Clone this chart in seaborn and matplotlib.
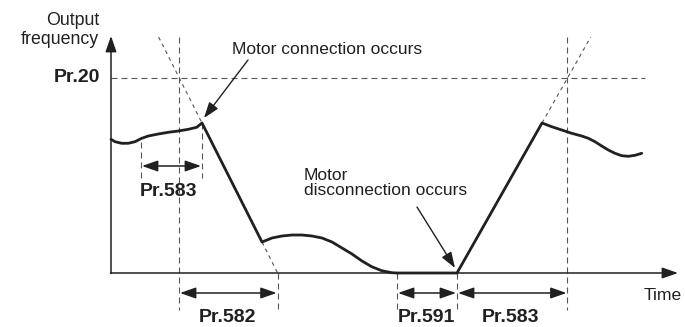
import numpy as np
import pandas as pd
import matplotlib
matplotlib.use("Agg")
import matplotlib.pyplot as plt
import seaborn as sns

# ---- data (time units, frequency units) ----
curve_t = [0, 4, 10.7, 17.3, 24, 30.7, 37.3, 47.3, 57.3, 67.3, 77.3, 85.7, 91,
           151, 161, 171, 181, 191, 201, 211, 221, 231, 241, 251, 260.7, 270.7, 280.7, 286,
           346, 431,
           440.7, 450.7, 460.7, 470.7, 477.3, 484, 490.7, 497.3, 504, 510.7, 517.3, 524, 530.7]
curve_f = [133.7, 131.3, 129.7, 129.7, 131.3, 134.7, 137, 139, 140.7, 142, 143.7, 145.7, 150,
           31, 35, 37, 38, 38, 37, 35, 31, 25, 19, 12, 6.3, 2.3, 0.3, 0,
           0, 150,
           146.3, 143, 139.7, 137, 134.7, 131.3, 127, 123, 119.7, 117.3, 116.7, 117.7, 119.7]

pr20_level = 195
t_pr20_decel = 68
t_connect = 91
t_decel_end = 151
t_decel_zero = 166.6
t_zero = 286
t_restart = 346
t_accel_end = 431
t_pr20_accel = 456.5
t_detect_start = 30
f_top = 236
t_axis_end = 567
t_pr20_line_end = 534

span_labels = ["Pr.583", "Pr.582", "Pr.591", "Pr.583"]
span_start = [t_detect_start, t_pr20_decel, t_zero, t_restart]
span_end = [t_connect, t_decel_zero, t_restart, t_pr20_accel]
span_arrow_f = [107, -20, -20, -20]
span_label_t = [58, 116, 315, 400]
span_label_f = [82, -44, -45, -45]

sns.set_theme(style="white")
plt.rcParams["font.family"] = ["Liberation Sans", "DejaVu Sans"]

fig = plt.figure(figsize=(6.85, 3.27), dpi=100)
ax = fig.add_axes([0, 0, 1, 1])

ink = "#231f20"
gray = "#555555"
dash_long = (0, (5.4, 3.6))
dash_short = (0, (3.4, 3.4))
lw_d = 0.8

# dashed guides
ax.plot([0, t_pr20_line_end], [pr20_level, pr20_level], color=gray, lw=lw_d, ls=dash_long)
for t in [t_pr20_decel, t_pr20_accel]:
    ax.plot([t, t], [f_top, -37], color=gray, lw=lw_d, ls=dash_long)
ax.plot([t_detect_start, t_detect_start], [131, 95], color=gray, lw=lw_d, ls=dash_long)
ax.plot([t_connect, t_connect], [150, 95], color=gray, lw=lw_d, ls=dash_long)
for t in [t_decel_zero, t_zero, t_restart]:
    ax.plot([t, t], [0, -37], color=gray, lw=lw_d, ls=dash_long)

# dashed extensions of the ramps
slope_dec = (31 - 150) / (t_decel_end - t_connect)
t_dec_top = t_connect + (f_top - 150) / slope_dec
ax.plot([t_dec_top, t_connect], [f_top, 150], color=gray, lw=lw_d, ls=dash_short)
ax.plot([t_decel_end, t_decel_zero], [31, 0], color=gray, lw=lw_d, ls=dash_short)
slope_acc = 150 / (t_accel_end - t_restart)
t_acc_top = t_restart + f_top / slope_acc
ax.plot([t_accel_end, t_acc_top], [150, f_top], color=gray, lw=lw_d, ls=dash_short)

# axes with arrows
ax.annotate("", xy=(0, f_top + 1), xytext=(0, -0.5),
            arrowprops=dict(arrowstyle="-|>,head_length=0.8,head_width=0.28",
                            color=ink, lw=1.1, shrinkA=0, shrinkB=0))
ax.annotate("", xy=(t_axis_end, 0), xytext=(-0.5, 0),
            arrowprops=dict(arrowstyle="-|>,head_length=0.8,head_width=0.28",
                            color=ink, lw=1.1, shrinkA=0, shrinkB=0))

# main output frequency curve
df = pd.DataFrame({"t": curve_t, "f": curve_f})
sns.lineplot(data=df, x="t", y="f", sort=False, estimator=None, ax=ax,
             color=ink, lw=2.0, solid_joinstyle="round", solid_capstyle="round")
ax.set_xlim(-111, 574)
ax.set_ylim(-54, 273)
ax.axis("off")

# span arrows and labels
for lab, s, e, fa, lt, lf in zip(span_labels, span_start, span_end, span_arrow_f,
                                 span_label_t, span_label_f):
    ax.annotate("", xy=(e - 1, fa), xytext=(s + 1, fa),
                arrowprops=dict(arrowstyle="<|-|>,head_length=0.8,head_width=0.28",
                                color=ink, lw=1.1, shrinkA=0, shrinkB=0))
    ax.text(lt, lf, lab, ha="center", va="center", fontsize=14,
            fontweight="bold", color=ink)

# texts
ax.text(-12, 243, "Output\nfrequency", ha="right", va="center", multialignment="right",
        fontsize=12.8, color=ink, linespacing=1.15)
ax.text(-11, pr20_level, "Pr.20", ha="right", va="center", fontsize=14,
        fontweight="bold", color=ink)
ax.text(t_axis_end - 34, -22, "Time", ha="left", va="center", fontsize=12.6, color=ink)

ax.text(121, 224, "Motor connection occurs", ha="left", va="center",
        fontsize=12.5, color=ink)
ax.annotate("", xy=(t_connect + 2, 155), xytext=(137, 213),
            arrowprops=dict(arrowstyle="-|>,head_length=0.8,head_width=0.28",
                            color=ink, lw=1.0, shrinkA=0, shrinkB=0))
ax.text(193, 90, "Motor\ndisconnection occurs", ha="left", va="center",
        fontsize=12.5, color=ink, linespacing=1.08)
ax.annotate("", xy=(t_restart - 2, 5), xytext=(306, 66),
            arrowprops=dict(arrowstyle="-|>,head_length=0.8,head_width=0.28",
                            color=ink, lw=1.0, shrinkA=0, shrinkB=0))

fig.savefig("out.png", dpi=100, facecolor="white")
